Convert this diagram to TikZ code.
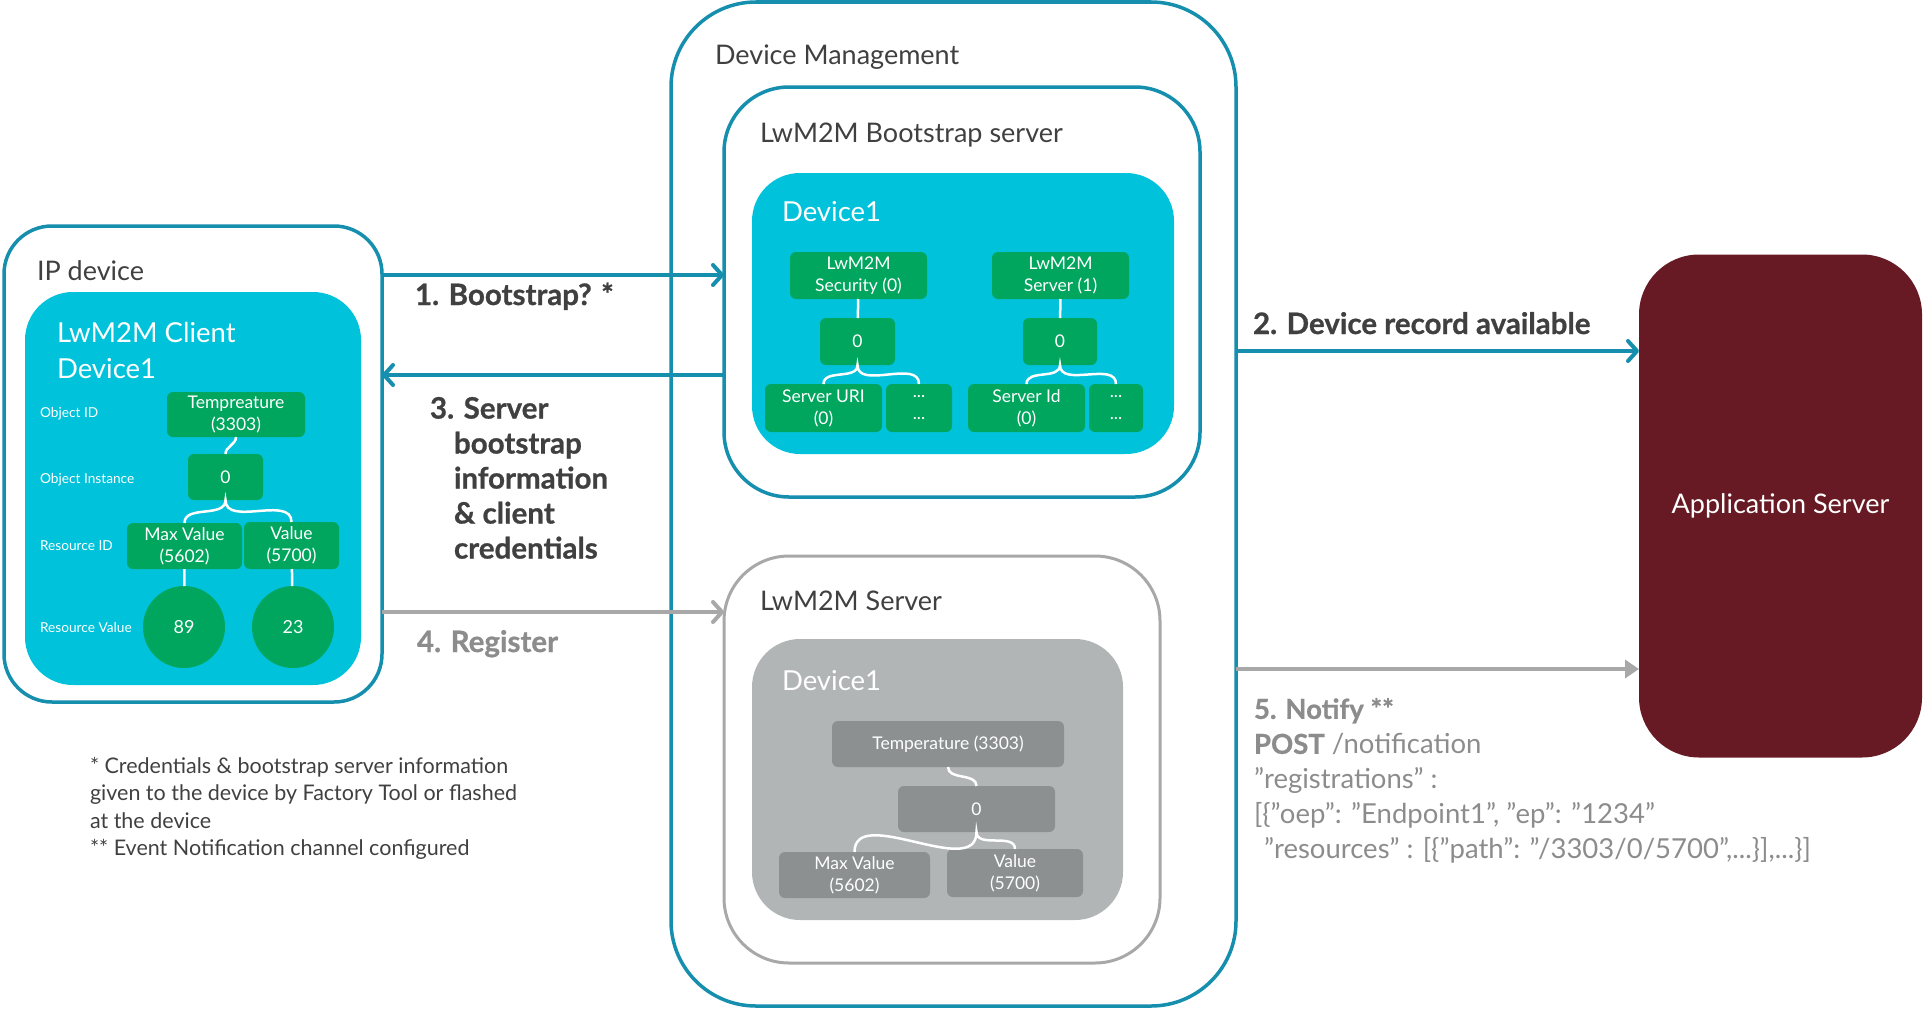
\documentclass[tikz,border=0pt]{standalone}
\usepackage{fontspec}
\setmainfont{Lato}[BoldFeatures={FakeBold=0.8}]
\usepackage{tikz}
\usetikzlibrary{arrows.meta,calc,positioning}
\definecolor{lwteal}{RGB}{22,142,174}
\definecolor{lwcyan}{RGB}{0,194,218}
\definecolor{lwgreen}{RGB}{0,166,94}
\definecolor{lwwine}{RGB}{104,26,36}
\definecolor{lwdark}{RGB}{64,64,64}
\definecolor{lwgray}{RGB}{140,140,140}
\definecolor{lwline}{RGB}{168,168,168}
\definecolor{lwpale}{RGB}{178,181,182}
\definecolor{lwmid}{RGB}{140,144,144}
\tikzset{
	lw diagram/.style={x=1pt,y=-1pt,
		every node/.style={inner sep=0pt,outer sep=0pt}},
	sz/.style 2 args={minimum width=#1pt,minimum height=#2pt},
	outer/.style={draw=lwteal,line width=3.5pt,rounded corners=#1},
	outer/.default=60pt,
	gouter/.style={draw=lwline,line width=3pt,rounded corners=65pt},
	panel/.style={fill=#1,rounded corners=48pt},
	app/.style={fill=lwwine,rounded corners=60pt,text=white,
		font=\fontsize{27}{30}\selectfont},
	obj/.style={fill=lwgreen,rounded corners=6pt,text=white,align=center,
		font=\fontsize{17.5}{22}\selectfont},
	gobj/.style={obj,fill=lwmid},
	val/.style={circle,fill=lwgreen,minimum size=82pt,text=white,
		font=\fontsize{18}{20}\selectfont},
	tie/.style={draw=white,line width=2.5pt},
	side/.style={anchor=west,text=white,font=\fontsize{13.7}{15}\selectfont},
	title/.style={anchor=base west,text=lwdark,font=\fontsize{27}{32}\selectfont},
	wtitle/.style={title,text=white,font=\fontsize{27.5}{32}\selectfont},
	msg/.style={anchor=base west,text=lwdark,font=\bfseries\fontsize{29.5}{35}\selectfont},
	flow/.style={draw=lwteal,line width=4pt,-{Straight Barb[length=9pt,width=20pt,round]}},
	gflow/.style={flow,draw=lwline},
	push/.style={draw=lwline,line width=4pt,-{Triangle[length=14pt,width=18pt]}}
}
\begin{document}
\begin{tikzpicture}[lw diagram]
	\useasboundingbox (0,0) rectangle (1924,1009);
	% containers
	\node[outer=85pt, sz={565}{1004}] (DM) at (953.5,504) {};
	\node[outer=65pt, sz={476}{410}] (BS) at (962,292) {};
	\node[panel=lwcyan, sz={422}{281}] (BSdev) at (963,313.5) {};
	\node[gouter, sz={436}{407}] (LS) at (942,759.5) {};
	\node[panel=lwpale, sz={371}{281}] (LSdev) at (937.5,779.5) {};
	\node[outer=48pt, sz={378}{476}] (IP) at (193,464) {};
	\node[panel=lwcyan, sz={336}{393}] (CL) at (193,488.5) {};
	\node[app, sz={283}{503}] (AS) at (1780.5,506) {Application Server};
	% client tree
	\node[obj, sz={138}{45}] (Ctemp) at (236,414.5) {Tempreature\\(3303)};
	\node[obj, sz={75}{46}] (Cinst) at (225.5,477) {0};
	\node[obj, sz={115}{46}] (Cmax) at (184.5,546) {Max Value\\(5602)};
	\node[obj, sz={95}{47}] (Cval) at (291.5,545.5) {Value\\(5700)};
	\node[val] (C89) at (184,627) {89};
	\node[val] (C23) at (293,627) {23};
	\foreach \y/\t in {414/Object ID,480/Object Instance,546/Resource ID,628/Resource Value}
		\node[side] (side\y) at (40,\y) {\t};
	\draw[tie] (Ctemp.south) to[out=-90,in=90] (Cinst.north);
	\draw[tie] (Cmax.north) to[out=90,in=-90] (Cinst.south) to[out=-90,in=90] (Cval.north);
	\draw[tie] (Cmax) -- (C89) (Cval) -- (C23);
	% bootstrap tree
	\node[obj, sz={137}{47}] (Bsec) at (858.5,275.5) {LwM2M\\Security (0)};
	\node[obj, sz={137}{47}] (Bsrv) at (1060.5,275.5) {LwM2M\\Server (1)};
	\node[obj, sz={75}{47}] (Bsec0) at (857.5,341.5) {0};
	\node[obj, sz={74}{47}] (Bsrv0) at (1060,341.5) {0};
	\node[obj, sz={117}{48}] (Buri) at (823.5,408) {Server URI\\(0)};
	\node[obj, sz={66}{48}] (Bmore1) at (919,408) {...\\...};
	\node[obj, sz={117}{48}] (Bid) at (1026.5,408) {Server Id\\(0)};
	\node[obj, sz={54}{48}] (Bmore2) at (1116,408) {...\\...};
	\draw[tie] (Bsec) -- (Bsec0) (Bsrv) -- (Bsrv0);
	\draw[tie] (Buri.north) to[out=90,in=-90] (Bsec0.south) to[out=-90,in=90] (Bmore1.north);
	\draw[tie] (Bid.north) to[out=90,in=-90] (Bsrv0.south) to[out=-90,in=90] (Bmore2.north);
	% server tree
	\node[gobj, sz={232}{46}] (Stemp) at (948,744) {Temperature (3303)};
	\node[gobj, sz={157}{46}] (Sinst) at (976.5,809) {0};
	\node[gobj, sz={151}{46}] (Smax) at (854.5,875) {Max Value\\(5602)};
	\node[gobj, sz={136}{48}] (Sval) at (1015,873) {Value\\(5700)};
	\draw[tie] (Stemp.south) to[out=-90,in=90] (Sinst.north);
	\draw[tie] (Smax.north) to[out=90,in=-90] (Sinst.south) to[out=-90,in=90] (Sval.north);
	% headings
	\node[title] (tDM) at (715,64) {Device Management};
	\node[title] (tBS) at (760,142) {LwM2M Bootstrap server};
	\node[wtitle] (tBSdev) at (782,221) {Device1};
	\node[title] (tLS) at (760,610) {LwM2M Server};
	\node[wtitle] (tLSdev) at (782,690) {Device1};
	\node[title] (tIP) at (37,280) {IP device};
	\node[wtitle] (tCL) at (57,342) {LwM2M Client};
	\node[wtitle] (tCLdev) at (57,378) {Device1};
	% messages
	\draw[flow] (IP.east |- 0,275) -- (BS.west |- 0,275);
	\draw[flow] (BS.west |- 0,375) -- (IP.east |- 0,375);
	\draw[gflow] (IP.east |- 0,612) -- (LS.west |- 0,612);
	\draw[flow] (DM.east |- 0,351) -- (AS.west |- 0,351);
	\draw[push] (DM.east |- 0,669) -- (AS.west |- 0,669);
	\node[msg] (m1) at (415,305) {1. Bootstrap? *};
	\node[msg, anchor=north west, align=left] (m3) at (430,397)
		{3. Server\\\hspace*{24pt}bootstrap\\\hspace*{24pt}information\\\hspace*{24pt}\& client\\\hspace*{24pt}credentials};
	\node[msg, text=lwgray] (m4) at (417,652) {4. Register};
	\node[msg] (m2) at (1253,334) {2. Device record available};
	\node[anchor=north west, align=left, text=lwgray, font=\fontsize{27.5}{35}\selectfont] (m5) at (1254,698)
		{\textbf{5. Notify **}\\\textbf{POST} /notification\\”registrations” :\\{}%
		[\{”oep”: ”Endpoint1”, ”ep”: ”1234”\\\hspace*{10pt}”resources” : [\{”path”: ”/3303/0/5700”,...\}],...\}]};
	\node[anchor=north west, align=left, text=lwdark, font=\fontsize{21.5}{27.5}\selectfont] (note) at (90,757)
		{* Credentials \& bootstrap server information\\given to the device by Factory Tool or flashed\\at the device\\** Event Notification channel configured};
\end{tikzpicture}
\end{document}
